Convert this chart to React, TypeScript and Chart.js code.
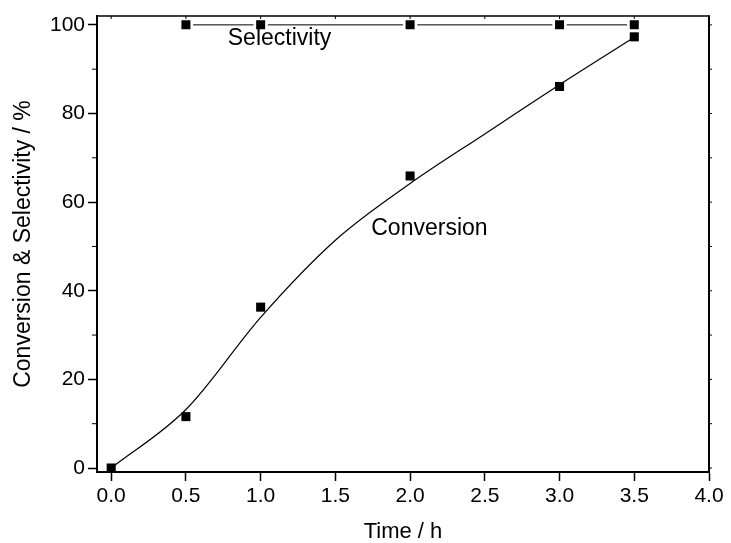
import React, { useEffect, useRef } from 'react';
import { Chart, registerables } from 'chart.js';

Chart.register(...registerables);

// ---- data ----
const conversionTime = [0, 0.5, 1.0, 2.0, 3.0, 3.5];
const conversion = [0, 11.6, 36.3, 65.9, 86.1, 97.3];
const selectivityTime = [0.5, 1.0, 2.0, 3.0, 3.5];
const selectivity = [100, 100, 100, 100, 100];
// fitted curve
const fitTime = [0, 0.5, 1.0, 1.5, 2.0, 2.5, 3.0, 3.5];
const fitConversion = [0, 13.2, 34.0, 51.4, 64.2, 75.4, 86.5, 97.2];

const xTicks = [0, 0.5, 1.0, 1.5, 2.0, 2.5, 3.0, 3.5, 4.0];
const yTicks = [0, 20, 40, 60, 80, 100];
const yMinorTicks = [10, 30, 50, 70, 90];
const yRightTicks = [0, 10, 20, 30, 40, 50, 60, 70, 80, 90, 100];

const curveLabels = ['Selectivity', 'Conversion'];
const curveLabelX = [0.78, 1.74];
const curveLabelY = [96.8, 54.0];

const xTitle = 'Time / h';
const yTitle = 'Conversion & Selectivity / %';

const FAMILY = "'Liberation Sans', Arial, sans-serif";

const framePlugin = {
  id: 'frameAndLabels',
  afterDatasetsDraw(chart: any) {
    const { ctx, chartArea, scales } = chart;
    const xs = scales.x;
    const ys = scales.y;
    ctx.save();
    ctx.strokeStyle = '#000';
    // top and right frame
    ctx.lineWidth = 1.5;
    ctx.beginPath();
    ctx.moveTo(chartArea.left, chartArea.top);
    ctx.lineTo(chartArea.right, chartArea.top);
    ctx.stroke();
    ctx.lineWidth = 2;
    ctx.beginPath();
    ctx.moveTo(chartArea.right, chartArea.top - 0.75);
    ctx.lineTo(chartArea.right, chartArea.bottom);
    ctx.stroke();
    // minor ticks left
    ctx.lineWidth = 1.5;
    ctx.beginPath();
    for (const v of yMinorTicks) {
      const y = ys.getPixelForValue(v);
      ctx.moveTo(chartArea.left - 5, y);
      ctx.lineTo(chartArea.left, y);
    }
    // right ticks
    ctx.lineWidth = 1;
    for (const v of yRightTicks) {
      const y = ys.getPixelForValue(v);
      ctx.moveTo(chartArea.right, y);
      ctx.lineTo(chartArea.right + 3, y);
    }
    // top ticks
    for (const v of xTicks) {
      const x = xs.getPixelForValue(v);
      ctx.moveTo(x, chartArea.top);
      ctx.lineTo(x, chartArea.top + 3);
    }
    ctx.stroke();
    // curve labels
    ctx.fillStyle = '#000';
    ctx.font = `23px ${FAMILY}`;
    ctx.textAlign = 'left';
    ctx.textBaseline = 'middle';
    curveLabels.forEach((t, i) => {
      ctx.fillText(t, xs.getPixelForValue(curveLabelX[i]), ys.getPixelForValue(curveLabelY[i]));
    });
    ctx.restore();
  },
};

export default function App() {
  const ref = useRef<HTMLCanvasElement>(null);
  useEffect(() => {
    document.body.style.margin = '0';
    const canvas = ref.current!;
    const chart = new Chart(canvas, {
      type: 'scatter',
      data: {
        datasets: [
          {
            label: 'Conversion',
            data: conversionTime.map((t, i) => ({ x: t, y: conversion[i] })),
            showLine: false,
            pointStyle: 'rect',
            pointRadius: 6.4,
            pointBackgroundColor: '#000',
            pointBorderWidth: 0,
            pointHoverRadius: 6.4,
          },
          {
            label: 'Fit',
            data: fitTime.map((t, i) => ({ x: t, y: fitConversion[i] })),
            showLine: true,
            borderColor: '#000',
            borderWidth: 1.2,
            pointRadius: 0,
            pointHoverRadius: 0,
            cubicInterpolationMode: 'monotone',
          },
          {
            label: 'Selectivity',
            data: selectivityTime.map((t, i) => ({ x: t, y: selectivity[i] })),
            showLine: true,
            borderColor: '#000',
            borderWidth: 1,
            pointStyle: 'rect',
            pointRadius: 8.27,
            pointHoverRadius: 8.27,
            pointBackgroundColor: '#000',
            pointBorderColor: '#fff',
            pointBorderWidth: 2.7,
          },
        ],
      } as any,
      plugins: [framePlugin],
      options: {
        animation: false,
        responsive: false,
        devicePixelRatio: 1,
        clip: false as any,
        layout: { padding: { left: 0, right: 22, top: 16, bottom: 0 } },
        plugins: { legend: { display: false }, tooltip: { enabled: false } },
        scales: {
          x: {
            type: 'linear',
            min: -0.095,
            max: 4.0,
            afterBuildTicks: (s: any) => {
              s.ticks = xTicks.map((v) => ({ value: v }));
            },
            afterFit: (s: any) => {
              s.height = 71;
            },
            grid: { drawOnChartArea: false, drawTicks: true, tickLength: 9, tickWidth: 1.5, tickColor: '#000' },
            border: { display: true, color: '#000', width: 2 },
            ticks: {
              color: '#000',
              padding: 3,
              maxRotation: 0,
              autoSkip: false,
              font: { family: FAMILY, size: 21 },
              callback: (v: any) => Number(v).toFixed(1),
            },
            title: {
              display: true,
              text: xTitle,
              color: '#000',
              font: { family: FAMILY, size: 22, lineHeight: 1 },
              padding: { top: 0, bottom: 0 },
            },
          },
          y: {
            type: 'linear',
            min: -0.9,
            max: 102,
            afterBuildTicks: (s: any) => {
              s.ticks = yTicks.map((v) => ({ value: v }));
            },
            afterFit: (s: any) => {
              s.width = 97;
            },
            grid: { drawOnChartArea: false, drawTicks: true, tickLength: 9, tickWidth: 1.5, tickColor: '#000' },
            border: { display: true, color: '#000', width: 2 },
            ticks: {
              color: '#000',
              padding: 3,
              autoSkip: false,
              font: { family: FAMILY, size: 21 },
              callback: (v: any) => String(v),
            },
            title: {
              display: true,
              text: yTitle,
              color: '#000',
              font: { family: FAMILY, size: 23, lineHeight: 1 },
              padding: { top: 12, bottom: 0 },
            },
          },
        },
      } as any,
    });
    return () => chart.destroy();
  }, []);
  return <canvas ref={ref} width={731} height={543} style={{ display: 'block' }} />;
}
